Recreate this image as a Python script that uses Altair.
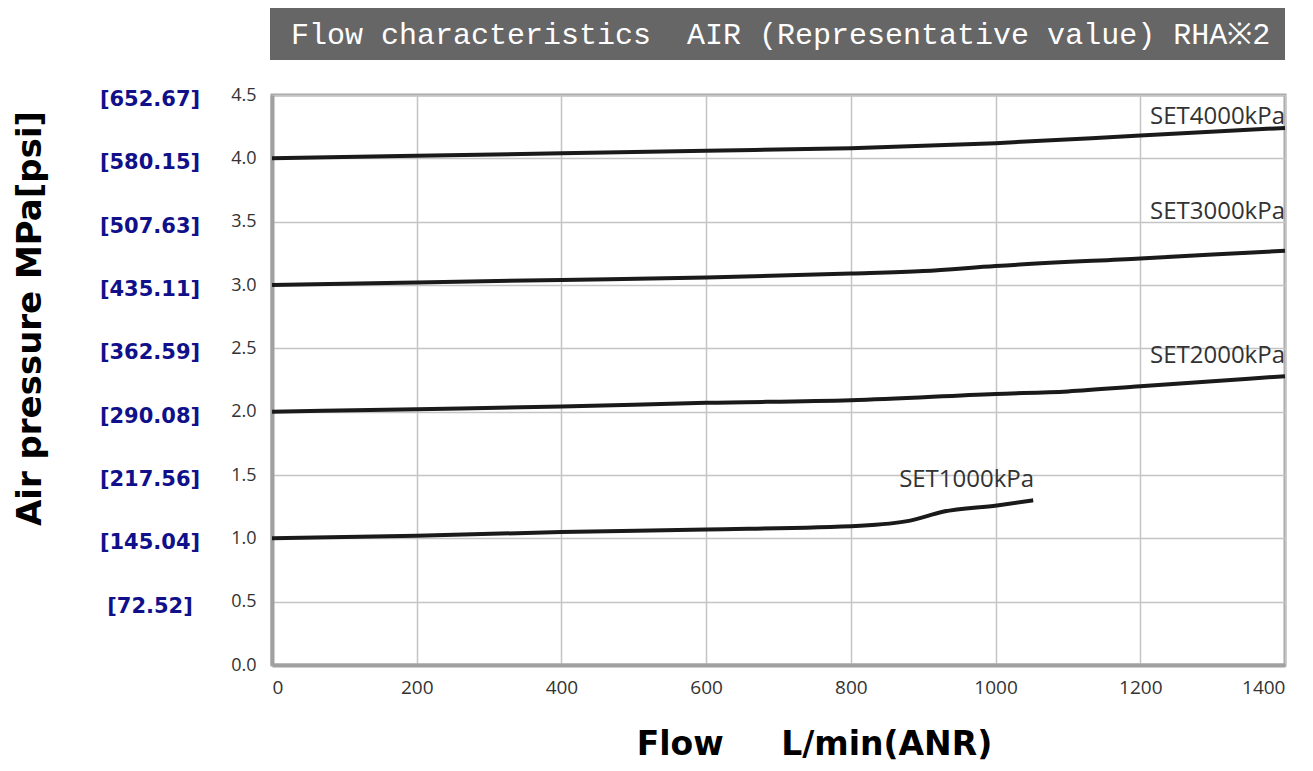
import altair as alt
import pandas as pd

# ---- data ----
flow_4000 = [0, 200, 400, 600, 800, 1000, 1200, 1400]
pres_4000 = [4.00, 4.02, 4.04, 4.06, 4.08, 4.12, 4.18, 4.24]

flow_3000 = [0, 200, 400, 600, 800, 900, 1000, 1200, 1400]
pres_3000 = [3.00, 3.02, 3.04, 3.06, 3.09, 3.11, 3.15, 3.21, 3.27]

flow_2000 = [0, 200, 400, 600, 800, 1000, 1100, 1200, 1300, 1400]
pres_2000 = [2.00, 2.02, 2.04, 2.07, 2.09, 2.14, 2.16, 2.20, 2.24, 2.28]

flow_1000 = [0, 200, 400, 600, 813, 882, 927, 1002, 1052]
pres_1000 = [1.00, 1.02, 1.05, 1.07, 1.10, 1.14, 1.21, 1.26, 1.30]

label_text = ["SET4000kPa", "SET3000kPa", "SET2000kPa", "SET1000kPa"]
label_flow = [1400, 1400, 1400, 960]
label_pres = [4.33, 3.58, 2.44, 1.46]
label_align = ["right", "right", "right", "center"]

mpa_ticks = [0.5, 1.0, 1.5, 2.0, 2.5, 3.0, 3.5, 4.0, 4.5]
psi_labels = ["[72.52]", "[145.04]", "[217.56]", "[290.08]", "[362.59]",
              "[435.11]", "[507.63]", "[580.15]", "[652.67]"]

title_text = "Flow characteristics\u00a0\u00a0AIR (Representative value) RHA\u203b2"

rows = []
for name, fl, pr in [("SET4000kPa", flow_4000, pres_4000),
                     ("SET3000kPa", flow_3000, pres_3000),
                     ("SET2000kPa", flow_2000, pres_2000),
                     ("SET1000kPa", flow_1000, pres_1000)]:
    for f, p in zip(fl, pr):
        rows.append({"series": name, "flow": f, "pressure": p})
df = pd.DataFrame(rows)

df_lab = pd.DataFrame({"text": label_text, "flow": label_flow,
                       "pressure": label_pres, "align": label_align})
df_psi = pd.DataFrame({"mpa": mpa_ticks, "psi": psi_labels})
df_title = pd.DataFrame({"t": [title_text]})

W, H = 1013, 570

xscale = alt.Scale(domain=[0, 1400], nice=False, zero=False)
yscale = alt.Scale(domain=[0, 4.5], nice=False, zero=False)

xaxis = alt.Axis(values=[0, 200, 400, 600, 800, 1000, 1200, 1400],
                 format="d",
                 title="Flow\u00a0\u00a0\u00a0\u00a0\u00a0L/min(ANR)",
                 titleFont="DejaVu Sans", titleFontSize=33, titleFontWeight="bold",
                 titleColor="#000000", titleX=542, titleY=89,
                 titleBaseline="alphabetic", titleAlign="center",
                 labelFont="Open Sans", labelFontSize=19, labelColor="#333333",
                 labelPadding=13, ticks=False, grid=True, gridColor="#c4c4c4",
                 gridWidth=1.5, domainColor="#a0a0a0", domainWidth=4)
yaxis = alt.Axis(values=[0, 0.5, 1.0, 1.5, 2.0, 2.5, 3.0, 3.5, 4.0, 4.5],
                 format=".1f",
                 title="Air pressure MPa[psi]",
                 titleFont="DejaVu Sans", titleFontSize=34, titleFontWeight="bold",
                 titleColor="#000000", titleX=-232, titleY=223, titleAngle=-90,
                 titleBaseline="alphabetic", titleAlign="center",
                 labelFont="Open Sans", labelFontSize=18, labelColor="#333333",
                 labelPadding=16, ticks=False, grid=True, gridColor="#c4c4c4",
                 gridWidth=1.5, domainColor="#a0a0a0", domainWidth=4)

lines = alt.Chart(df).mark_line(strokeWidth=4, color="#1a1a1a",
                                interpolate="monotone", clip=False).encode(
    x=alt.X("flow:Q", scale=xscale, axis=xaxis),
    y=alt.Y("pressure:Q", scale=yscale, axis=yaxis),
    detail="series:N",
)

labels_r = alt.Chart(df_lab[df_lab["align"] == "right"]).mark_text(
    align="right", baseline="middle", font="Open Sans", fontSize=24,
    color="#333333").encode(
    x=alt.X("flow:Q", scale=xscale),
    y=alt.Y("pressure:Q", scale=yscale),
    text="text:N",
)
labels_c = alt.Chart(df_lab[df_lab["align"] == "center"]).mark_text(
    align="center", baseline="middle", font="Open Sans", fontSize=24,
    color="#333333").encode(
    x=alt.X("flow:Q", scale=xscale),
    y=alt.Y("pressure:Q", scale=yscale),
    text="text:N",
)

psi = alt.Chart(df_psi).mark_text(
    align="center", baseline="middle", font="DejaVu Sans", fontWeight="bold",
    fontSize=21, color="#10108a", dy=5).encode(
    x=alt.value(-122),
    y=alt.Y("mpa:Q", scale=yscale),
    text="psi:N",
)

banner = alt.Chart(df_title).mark_rect(color="#666666").encode(
    x=alt.value(-2), x2=alt.value(1013), y=alt.value(-87), y2=alt.value(-35))
banner_text = alt.Chart(df_title).mark_text(
    align="left", baseline="middle", font="Liberation Mono", fontSize=30,
    color="#ffffff").encode(
    x=alt.value(19), y=alt.value(-60), text="t:N")

chart = alt.layer(banner, banner_text, lines, labels_r, labels_c, psi).properties(
    width=W, height=H,
    autosize=alt.AutoSizeParams(type="none"),
    padding={"left": 264, "top": 87, "right": 12, "bottom": 98},
    background="#ffffff",
).configure_view(stroke="#a6a6a6", strokeWidth=3)

chart.save("out.html", embed_options={"renderer": "svg", "actions": False})
